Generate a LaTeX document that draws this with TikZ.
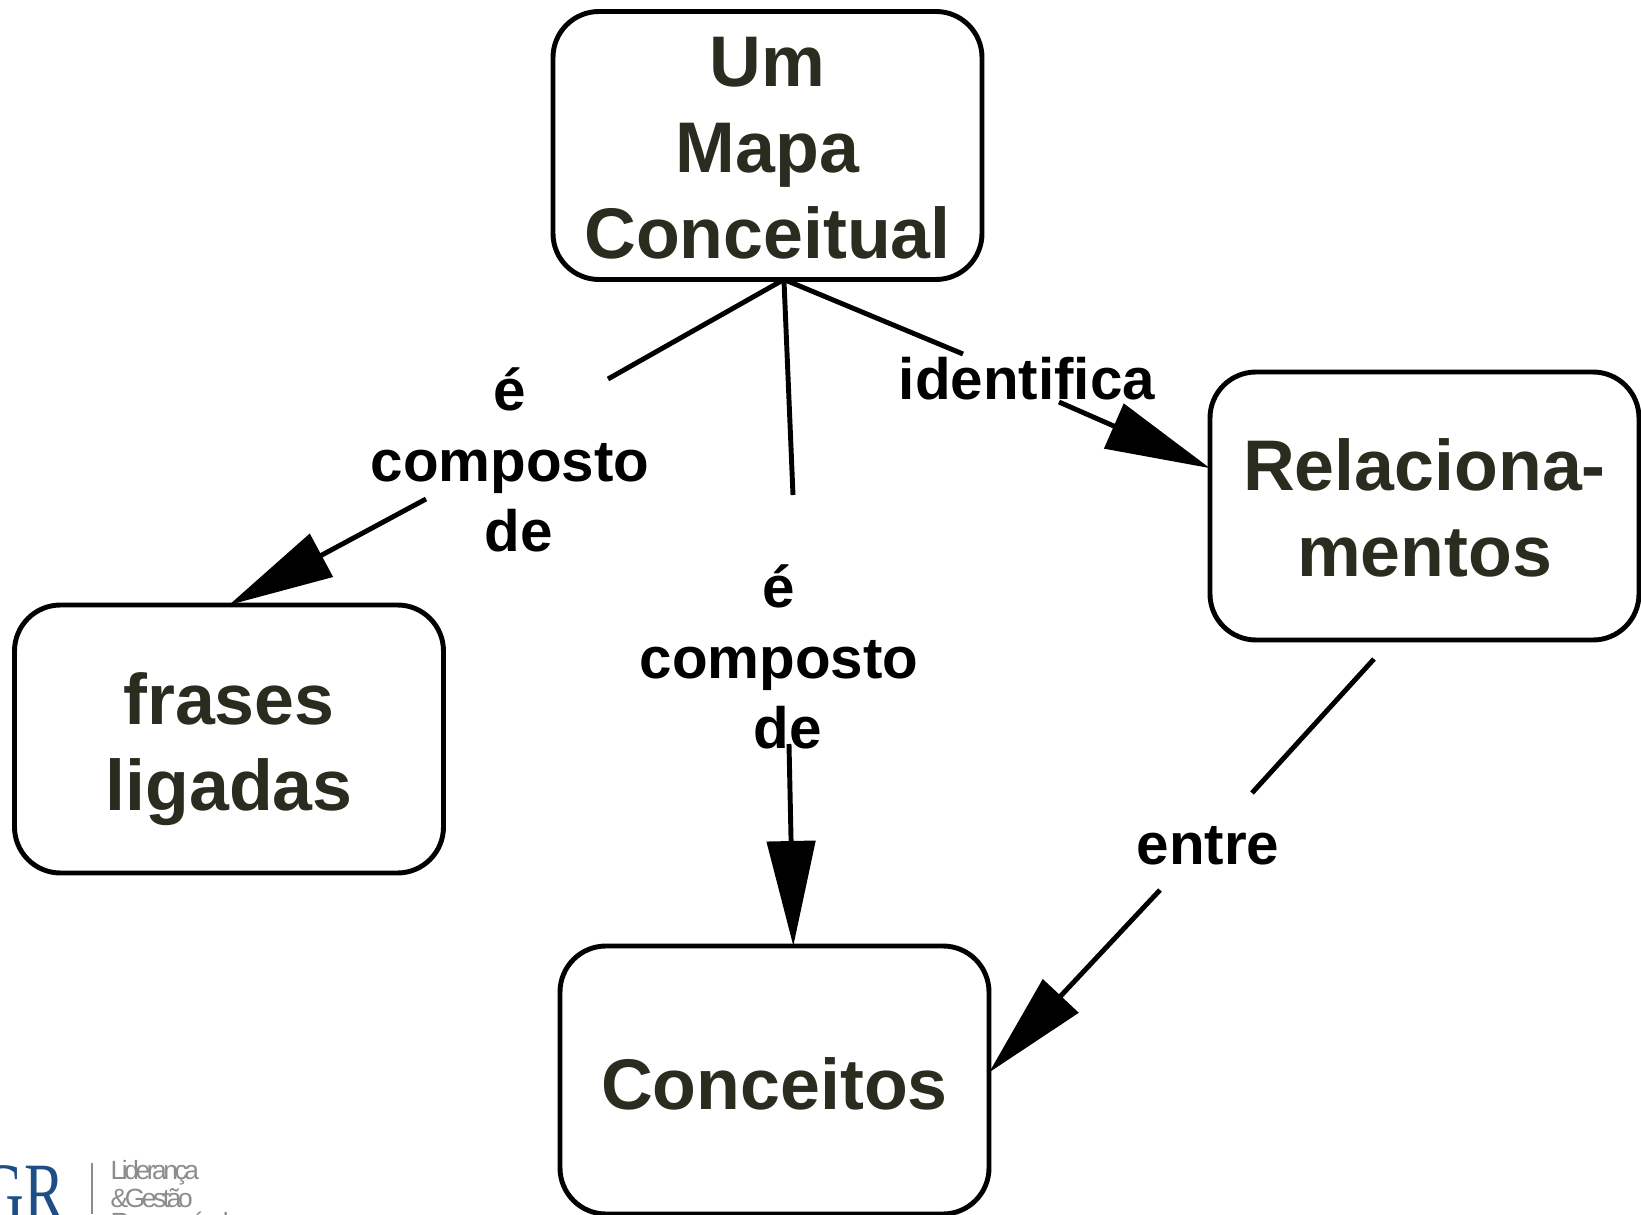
\documentclass[tikz,border=0pt]{standalone}
\usepackage{fontspec}
\setmainfont{Liberation Sans}
\newfontfamily\logotext[LetterSpace=-13]{Liberation Sans}
\newfontfamily\logomark[FakeStretch=0.73]{Liberation Serif}
\usetikzlibrary{arrows.meta}

\definecolor{conceptink}{HTML}{2B2C20}
\definecolor{logoblue}{HTML}{1F4E87}
\definecolor{logogray}{HTML}{8C8C8C}

\tikzstyle{concept}=[draw, line width=1.4pt, rounded corners=0.46cm, minimum width=4.29cm, minimum height=2.68cm, outer sep=0pt, inner sep=0pt, align=center, text=conceptink, font=\fontsize{20.4}{24.5}\selectfont\bfseries]
\tikzstyle{linktext}=[align=center, inner sep=0pt, font=\fontsize{16.6}{20.1}\selectfont\bfseries]
\tikzstyle{line}=[line width=1.4pt]
\tikzstyle{arrow}=[line width=1.4pt, -{Triangle[length=1.05cm, width=0.48cm]}]

\begin{document}
\begin{tikzpicture}
    \useasboundingbox (0, 0) rectangle (16.41, 12.14);
    \clip (0, 0) rectangle (16.41, 12.14);

    \node[concept] (mapa) at (7.675, 10.685) {\rule{0pt}{15.6pt}Um\\Mapa\\Conceitual};
    \node[concept] (relac) at (14.245, 7.08) {\rule{0pt}{15.8pt}Relaciona-\\mentos};
    \node[concept] (frases) at (2.29, 4.75) {\rule{0pt}{20.4pt}frases\\ligadas};
    \node[concept] (conceitos) at (7.745, 1.34) {\rule{0pt}{16.8pt}Conceitos};

    \node[linktext] (compostoA) at (5.10, 7.54) {é\\composto\\\hspace*{4.8pt}de};
    \node[linktext] (compostoB) at (7.79, 5.57) {é\\composto\\\hspace*{4.8pt}de};
    \node[linktext] (identifica) at (10.27, 8.35) {identifica};
    \node[linktext] (entre) at (12.08, 3.68) {entre};

    \coordinate (a1) at (6.08, 8.35);
    \coordinate (a2) at (4.26, 7.15);
    \coordinate (b1) at (7.93, 7.19);
    \coordinate (b2) at (7.89, 4.70);
    \coordinate (c1) at (9.63, 8.60);
    \coordinate (c2) at (10.59, 8.12);
    \coordinate (d1) at (13.74, 5.55);
    \coordinate (d2) at (12.52, 4.21);
    \coordinate (d3) at (11.60, 3.24);

    \draw[line] (mapa.-83) to (a1);
    \draw[arrow] (a2) to (frases.north);
    \draw[line] (mapa.-83) to (b1);
    \draw[arrow] (b2) to (conceitos.82);
    \draw[line] (mapa.-83) to (c1);
    \draw[arrow] (c2) to (relac.170);
    \draw[line] (d1) to (d2);
    \draw[arrow] (d3) to (conceitos.2);

    \node[text=logoblue, anchor=base west, inner sep=0pt, font=\fontsize{23.6}{23.6}\selectfont\logomark] (logogr) at (-0.20, -0.06) {GR};
    \draw[logogray, line width=0.6pt] (0.92, 0) to (0.92, 0.51);
    \node[text=logogray, anchor=base west, inner sep=0pt, align=left, font=\fontsize{7.5}{6.6}\selectfont\logotext] (logotxt) at (1.10, -0.17) {Liderança\\\&Gestão\\Responsável};
\end{tikzpicture}
\end{document}
